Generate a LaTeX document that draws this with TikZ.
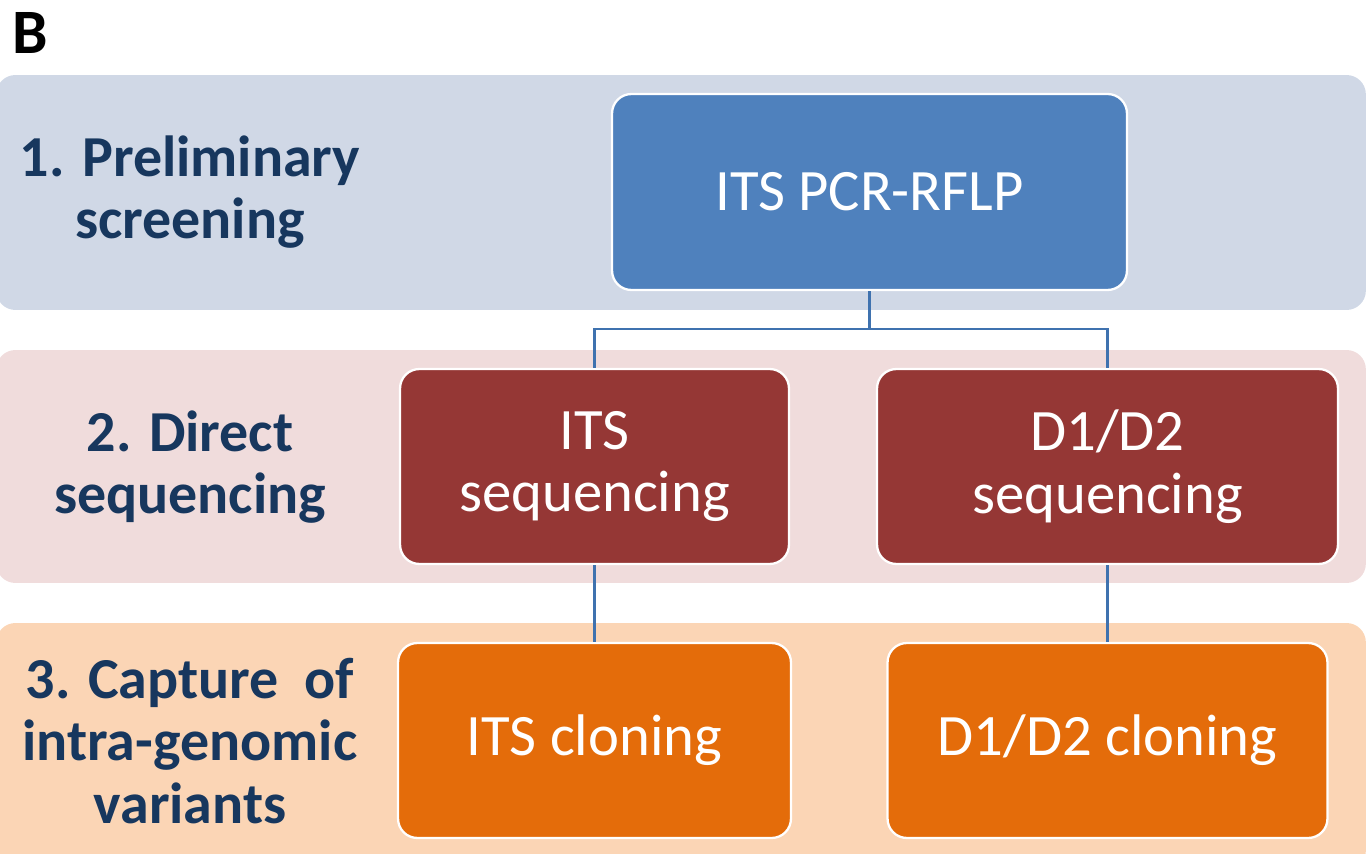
\documentclass[tikz,border=0pt]{standalone}
\usepackage{fontspec}
\setmainfont{Carlito}
\usetikzlibrary{positioning}
\definecolor{bandblue}{HTML}{D0D8E6}
\definecolor{bandpink}{HTML}{F0DCDC}
\definecolor{bandpeach}{HTML}{FBD5B5}
\definecolor{stepblue}{HTML}{4F81BD}
\definecolor{stepred}{HTML}{953735}
\definecolor{steporange}{HTML}{E46C0A}
\definecolor{linkblue}{HTML}{3F72AF}
\definecolor{labnavy}{HTML}{17375E}
\tikzset{
  band/.style     = {rounded corners=11pt, inner sep=0pt, draw=none,
                     minimum width=27.4cm},
  stagelab/.style = {text=labnavy, align=center,
                     font=\fontsize{33}{35.5}\selectfont\bfseries},
  box/.style      = {draw=white, line width=1.3pt, rounded corners=11pt,
                     inner sep=0pt, minimum height=3.9cm, align=center,
                     text=white, font=\fontsize{33.4}{35.5}\selectfont},
  boxb/.style     = {box, fill=stepblue},
  boxr/.style     = {box, fill=stepred},
  boxo/.style     = {box, fill=steporange},
  link/.style     = {draw=linkblue, line width=1.2pt},
}
\begin{document}
\begin{tikzpicture}[x=0.02cm, y=-0.02cm]
  \useasboundingbox (0,0) rectangle (1372,854);
  \node[font=\fontsize{36}{38}\selectfont\bfseries] (panel) at (30,33) {B};
  % stage bands
  \node[band, fill=bandblue,  minimum height=4.70cm] (band1) at (681,192.5) {};
  \node[band, fill=bandpink,  minimum height=4.66cm] (band2) at (681,466.5) {};
  \node[band, fill=bandpeach, minimum height=4.94cm] (band3) at (681,746.5) {};
  \node[stagelab] (lab1) at (190,192) {1. Preliminary\\screening};
  \node[stagelab] (lab2) at (190,467) {2. Direct\\sequencing};
  \node[stagelab] (lab3) at (190,741) {3. Capture~ of\\intra-genomic\\variants};
  % steps
  \node[boxb, minimum width=10.30cm, minimum height=3.92cm] (rflp) at (869.5,192) {ITS PCR-RFLP};
  \node[boxr, minimum width=7.78cm] (itsseq) at (594.5,466.5) {ITS\\sequencing};
  \node[boxr, minimum width=9.22cm] (d1seq) at (1107.5,466.5) {D1/D2\\sequencing};
  \node[boxo, minimum width=7.86cm] (itsclo) at (594.5,740.5) {ITS cloning};
  \node[boxo, minimum width=8.80cm] (d1clo) at (1107.5,740.5) {D1/D2 cloning};
  % connectors
  \draw[link] (rflp.south) -- ++(0,38) -| (itsseq.north);
  \draw[link] (rflp.south) -- ++(0,38) -| (d1seq.north);
  \draw[link] (itsseq.south) -- (itsclo.north);
  \draw[link] (d1seq.south) -- (d1clo.north);
\end{tikzpicture}
\end{document}
